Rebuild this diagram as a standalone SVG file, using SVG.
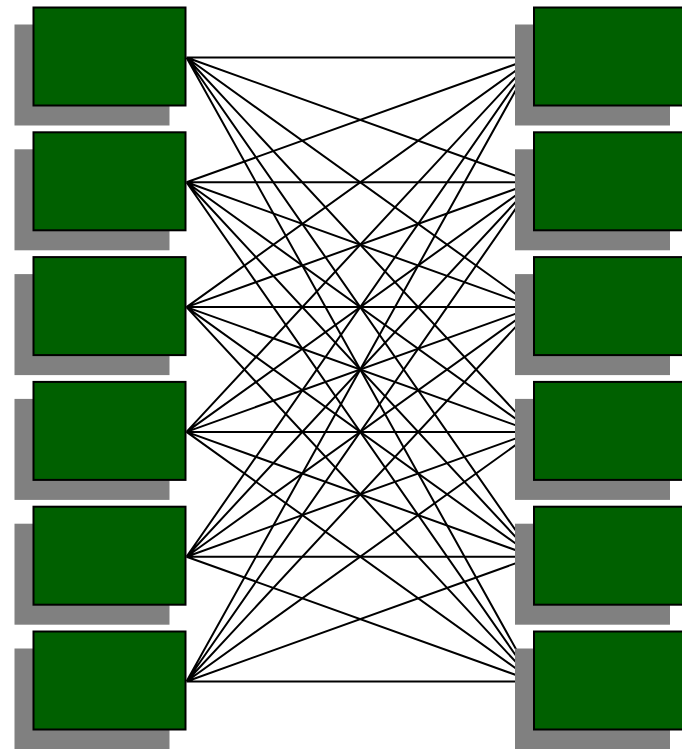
<svg xmlns="http://www.w3.org/2000/svg" width="682" height="749" viewBox="0 0 682 749">
<style>
.e{stroke:#000;stroke-width:2;fill:none}
.s{fill:#808080}
.b{fill:#006000;stroke:#000;stroke-width:2}
</style>
<defs>
<g id="n"><rect class="s" x="-18" y="18" width="155" height="101"/><rect class="b" x="1" y="1" width="152" height="98"/></g>
</defs>
<rect width="682" height="749" fill="#fff"/>
<g id="connectors">
<path class="e" d="M186.5,57.5L534,57.5M186.5,57.5L534,182.3M186.5,57.5L534,307.1M186.5,57.5L534,431.9M186.5,57.5L534,556.7M186.5,57.5L534,681.5"/>
<path class="e" d="M186.5,182.3L534,57.5M186.5,182.3L534,182.3M186.5,182.3L534,307.1M186.5,182.3L534,431.9M186.5,182.3L534,556.7M186.5,182.3L534,681.5"/>
<path class="e" d="M186.5,307.1L534,57.5M186.5,307.1L534,182.3M186.5,307.1L534,307.1M186.5,307.1L534,431.9M186.5,307.1L534,556.7M186.5,307.1L534,681.5"/>
<path class="e" d="M186.5,431.9L534,57.5M186.5,431.9L534,182.3M186.5,431.9L534,307.1M186.5,431.9L534,431.9M186.5,431.9L534,556.7M186.5,431.9L534,681.5"/>
<path class="e" d="M186.5,556.7L534,57.5M186.5,556.7L534,182.3M186.5,556.7L534,307.1M186.5,556.7L534,431.9M186.5,556.7L534,556.7M186.5,556.7L534,681.5"/>
<path class="e" d="M186.5,681.5L534,57.5M186.5,681.5L534,182.3M186.5,681.5L534,307.1M186.5,681.5L534,431.9M186.5,681.5L534,556.7M186.5,681.5L534,681.5"/>
</g>
<g id="L1"><use href="#n" x="32.5" y="6.5"/></g>
<g id="L2"><use href="#n" x="32.5" y="131.3"/></g>
<g id="L3"><use href="#n" x="32.5" y="256.1"/></g>
<g id="L4"><use href="#n" x="32.5" y="380.9"/></g>
<g id="L5"><use href="#n" x="32.5" y="505.7"/></g>
<g id="L6"><use href="#n" x="32.5" y="630.5"/></g>
<g id="R1"><use href="#n" x="533" y="6.5"/></g>
<g id="R2"><use href="#n" x="533" y="131.3"/></g>
<g id="R3"><use href="#n" x="533" y="256.1"/></g>
<g id="R4"><use href="#n" x="533" y="380.9"/></g>
<g id="R5"><use href="#n" x="533" y="505.7"/></g>
<g id="R6"><use href="#n" x="533" y="630.5"/></g>
</svg>
